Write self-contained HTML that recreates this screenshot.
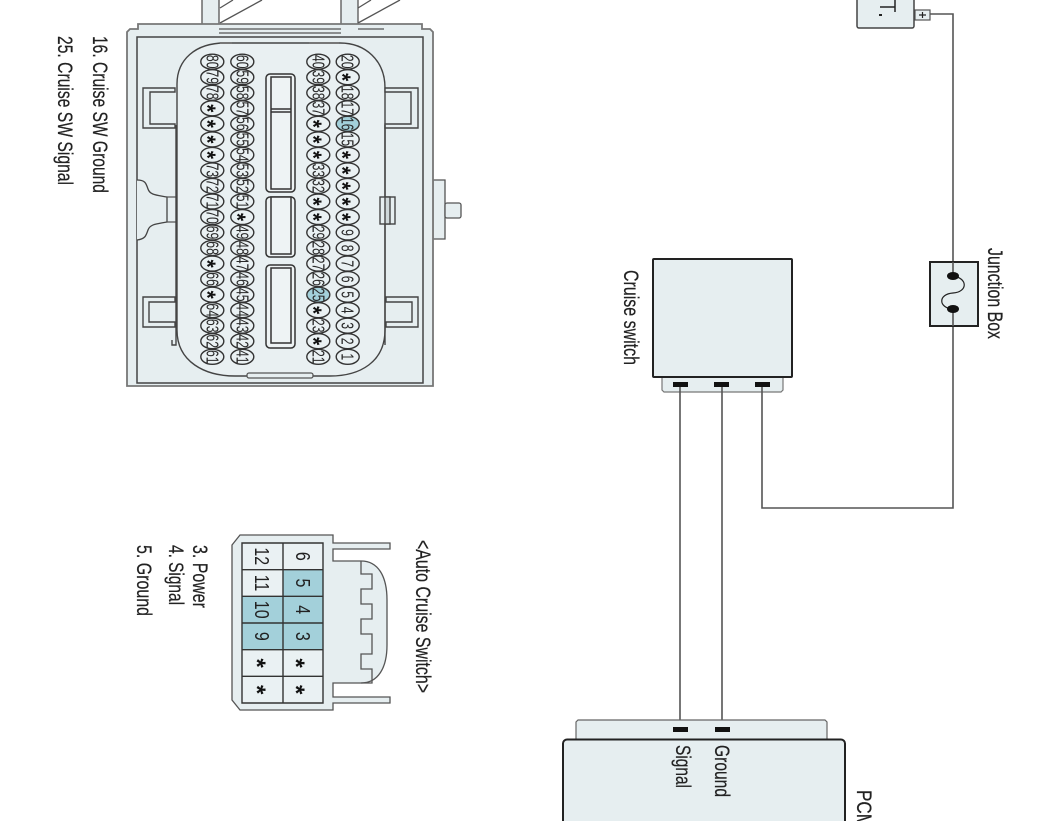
<!DOCTYPE html>
<html><head><meta charset="utf-8"><title>Cruise Control Circuit</title>
<style>
html,body{margin:0;padding:0;background:#fff;width:1062px;height:821px;overflow:hidden}
svg{display:block}
text{font-family:"Liberation Sans",sans-serif;fill:#222}
.l{font-size:21px;stroke:#222;stroke-width:.2}
.p ellipse{fill:#eaf1f3;stroke:#333;stroke-width:1.4}
.p ellipse.h{fill:#a3d0da}
.p text{font-size:18px;text-anchor:middle;fill:#2a2a2a}
.p text.s{font-weight:bold;font-size:23px;fill:#111}
.g text{font-size:20px;text-anchor:middle;fill:#222}
.g text.s{font-weight:bold;font-size:24px;fill:#111}
.b{fill:#e6eef0;stroke:#555;stroke-width:1.3}
.d{fill:none;stroke:#555;stroke-width:1.3}
.w{fill:none;stroke:#555;stroke-width:1.6}
</style></head><body>
<svg width="1062" height="821" viewBox="0 0 1062 821" xmlns="http://www.w3.org/2000/svg">
<!-- harness -->
<path class="d" d="M220 8L233 0M220 23L262 0M358 8L371 0M358 23L400 0"/>
<rect class="b" x="202" y="-2" width="17" height="38"/>
<rect class="b" x="341" y="-2" width="17" height="38"/>
<!-- connector body -->
<path class="b" d="M433 180h12v59h-12z"/>
<rect class="b" x="445" y="203" width="16" height="15" rx="2"/>
<path class="b" d="M127 386V32l3-3h8v-5H422v5h8l3 3V386z" style="stroke:#777;stroke-width:1.8"/>
<path d="M137 37H423V383H137z" fill="#e6eef0" stroke="#444" stroke-width="1.5"/>
<path class="d" d="M219 29H341M219 33H341M358 29h26"/>
<path d="M137 180c8 0 9 3 11 9s8 6 19 8V222c-10 2-17 2-19 8s-3 9-11 10" fill="#e6eef0" stroke="#444" stroke-width="1.3"/>
<path class="d" d="M167 197h10v25h-10"/>
<!-- inner rounded field -->
<path d="M177 88V84C177 60 195 43 225 43H340C365 43 385 60 385 88V330C385 362 360 376 330 376H235C205 376 177 362 177 330Z" fill="#e9f0f2" stroke="#444" stroke-width="1.4"/>
<path d="M220 43h12M309 43h30" stroke="#777" stroke-width="2"/>
<rect class="b" x="247" y="373" width="66" height="5" rx="2"/>
<!-- latches -->
<g fill="#e6eef0" stroke="#444" stroke-width="1.4">
<path d="M175 88H143V128H175V124H150V92H175Z"/>
<path d="M385 88H418V128H385V124H411V92H385Z"/>
<path d="M175 297H143V327H175V322H149V302H175Z"/>
<path d="M386 297H418V327H386V322H412V302H386Z"/>
<path d="M176 125V345H172V340M385 125V345" fill="none"/>
<rect x="380" y="197" width="15" height="27"/>
<rect x="385" y="197" width="5" height="27" fill="#cfd8da"/>
</g>
<!-- centre slots -->
<g fill="#eef3f4" stroke="#333" stroke-width="1.5">
<rect x="266" y="74" width="29" height="118" rx="4"/><rect x="271" y="77" width="20" height="112"/>
<rect x="266" y="197" width="29" height="60" rx="4"/><rect x="271" y="197" width="20" height="57"/>
<rect x="266" y="265" width="29" height="83" rx="4"/><rect x="271" y="268" width="20" height="75"/>
<path d="M271 112H291M271 109H291" fill="none"/>
</g>
<!-- pins -->
<g class="p">
<g transform="translate(347.7 61.7)"><ellipse rx="11.5" ry="7.5"/><text transform="rotate(90) scale(.68 1)" y="6">20</text></g>
<g transform="translate(347.7 77.2)"><ellipse rx="11.5" ry="7.5"/><text class="s" transform="rotate(90) scale(.9 1)" y="13">*</text></g>
<g transform="translate(347.7 92.8)"><ellipse rx="11.5" ry="7.5"/><text transform="rotate(90) scale(.68 1)" y="6">18</text></g>
<g transform="translate(347.7 108.3)"><ellipse rx="11.5" ry="7.5"/><text transform="rotate(90) scale(.68 1)" y="6">17</text></g>
<g transform="translate(347.7 123.8)"><ellipse class="h" rx="11.5" ry="7.5"/><text transform="rotate(90) scale(.68 1)" y="6">16</text></g>
<g transform="translate(347.7 139.4)"><ellipse rx="11.5" ry="7.5"/><text transform="rotate(90) scale(.68 1)" y="6">15</text></g>
<g transform="translate(347.7 154.9)"><ellipse rx="11.5" ry="7.5"/><text class="s" transform="rotate(90) scale(.9 1)" y="13">*</text></g>
<g transform="translate(347.7 170.4)"><ellipse rx="11.5" ry="7.5"/><text class="s" transform="rotate(90) scale(.9 1)" y="13">*</text></g>
<g transform="translate(347.7 185.9)"><ellipse rx="11.5" ry="7.5"/><text class="s" transform="rotate(90) scale(.9 1)" y="13">*</text></g>
<g transform="translate(347.7 201.5)"><ellipse rx="11.5" ry="7.5"/><text class="s" transform="rotate(90) scale(.9 1)" y="13">*</text></g>
<g transform="translate(347.7 217)"><ellipse rx="11.5" ry="7.5"/><text class="s" transform="rotate(90) scale(.9 1)" y="13">*</text></g>
<g transform="translate(347.7 232.5)"><ellipse rx="11.5" ry="7.5"/><text transform="rotate(90) scale(.68 1)" y="6">9</text></g>
<g transform="translate(347.7 248.1)"><ellipse rx="11.5" ry="7.5"/><text transform="rotate(90) scale(.68 1)" y="6">8</text></g>
<g transform="translate(347.7 263.6)"><ellipse rx="11.5" ry="7.5"/><text transform="rotate(90) scale(.68 1)" y="6">7</text></g>
<g transform="translate(347.7 279.1)"><ellipse rx="11.5" ry="7.5"/><text transform="rotate(90) scale(.68 1)" y="6">6</text></g>
<g transform="translate(347.7 294.7)"><ellipse rx="11.5" ry="7.5"/><text transform="rotate(90) scale(.68 1)" y="6">5</text></g>
<g transform="translate(347.7 310.2)"><ellipse rx="11.5" ry="7.5"/><text transform="rotate(90) scale(.68 1)" y="6">4</text></g>
<g transform="translate(347.7 325.7)"><ellipse rx="11.5" ry="7.5"/><text transform="rotate(90) scale(.68 1)" y="6">3</text></g>
<g transform="translate(347.7 341.2)"><ellipse rx="11.5" ry="7.5"/><text transform="rotate(90) scale(.68 1)" y="6">2</text></g>
<g transform="translate(347.7 356.8)"><ellipse rx="11.5" ry="7.5"/><text transform="rotate(90) scale(.68 1)" y="6">1</text></g>

<g transform="translate(318.3 61.7)"><ellipse rx="11.5" ry="7.5"/><text transform="rotate(90) scale(.68 1)" y="6">40</text></g>
<g transform="translate(318.3 77.2)"><ellipse rx="11.5" ry="7.5"/><text transform="rotate(90) scale(.68 1)" y="6">39</text></g>
<g transform="translate(318.3 92.8)"><ellipse rx="11.5" ry="7.5"/><text transform="rotate(90) scale(.68 1)" y="6">38</text></g>
<g transform="translate(318.3 108.3)"><ellipse rx="11.5" ry="7.5"/><text transform="rotate(90) scale(.68 1)" y="6">37</text></g>
<g transform="translate(318.3 123.8)"><ellipse rx="11.5" ry="7.5"/><text class="s" transform="rotate(90) scale(.9 1)" y="13">*</text></g>
<g transform="translate(318.3 139.4)"><ellipse rx="11.5" ry="7.5"/><text class="s" transform="rotate(90) scale(.9 1)" y="13">*</text></g>
<g transform="translate(318.3 154.9)"><ellipse rx="11.5" ry="7.5"/><text class="s" transform="rotate(90) scale(.9 1)" y="13">*</text></g>
<g transform="translate(318.3 170.4)"><ellipse rx="11.5" ry="7.5"/><text transform="rotate(90) scale(.68 1)" y="6">33</text></g>
<g transform="translate(318.3 185.9)"><ellipse rx="11.5" ry="7.5"/><text transform="rotate(90) scale(.68 1)" y="6">32</text></g>
<g transform="translate(318.3 201.5)"><ellipse rx="11.5" ry="7.5"/><text class="s" transform="rotate(90) scale(.9 1)" y="13">*</text></g>
<g transform="translate(318.3 217)"><ellipse rx="11.5" ry="7.5"/><text class="s" transform="rotate(90) scale(.9 1)" y="13">*</text></g>
<g transform="translate(318.3 232.5)"><ellipse rx="11.5" ry="7.5"/><text transform="rotate(90) scale(.68 1)" y="6">29</text></g>
<g transform="translate(318.3 248.1)"><ellipse rx="11.5" ry="7.5"/><text transform="rotate(90) scale(.68 1)" y="6">28</text></g>
<g transform="translate(318.3 263.6)"><ellipse rx="11.5" ry="7.5"/><text transform="rotate(90) scale(.68 1)" y="6">27</text></g>
<g transform="translate(318.3 279.1)"><ellipse rx="11.5" ry="7.5"/><text transform="rotate(90) scale(.68 1)" y="6">26</text></g>
<g transform="translate(318.3 294.7)"><ellipse class="h" rx="11.5" ry="7.5"/><text transform="rotate(90) scale(.68 1)" y="6">25</text></g>
<g transform="translate(318.3 310.2)"><ellipse rx="11.5" ry="7.5"/><text class="s" transform="rotate(90) scale(.9 1)" y="13">*</text></g>
<g transform="translate(318.3 325.7)"><ellipse rx="11.5" ry="7.5"/><text transform="rotate(90) scale(.68 1)" y="6">23</text></g>
<g transform="translate(318.3 341.2)"><ellipse rx="11.5" ry="7.5"/><text class="s" transform="rotate(90) scale(.9 1)" y="13">*</text></g>
<g transform="translate(318.3 356.8)"><ellipse rx="11.5" ry="7.5"/><text transform="rotate(90) scale(.68 1)" y="6">21</text></g>

<g transform="translate(242.3 61.7)"><ellipse rx="11.5" ry="7.5"/><text transform="rotate(90) scale(.68 1)" y="6">60</text></g>
<g transform="translate(242.3 77.2)"><ellipse rx="11.5" ry="7.5"/><text transform="rotate(90) scale(.68 1)" y="6">59</text></g>
<g transform="translate(242.3 92.8)"><ellipse rx="11.5" ry="7.5"/><text transform="rotate(90) scale(.68 1)" y="6">58</text></g>
<g transform="translate(242.3 108.3)"><ellipse rx="11.5" ry="7.5"/><text transform="rotate(90) scale(.68 1)" y="6">57</text></g>
<g transform="translate(242.3 123.8)"><ellipse rx="11.5" ry="7.5"/><text transform="rotate(90) scale(.68 1)" y="6">56</text></g>
<g transform="translate(242.3 139.4)"><ellipse rx="11.5" ry="7.5"/><text transform="rotate(90) scale(.68 1)" y="6">55</text></g>
<g transform="translate(242.3 154.9)"><ellipse rx="11.5" ry="7.5"/><text transform="rotate(90) scale(.68 1)" y="6">54</text></g>
<g transform="translate(242.3 170.4)"><ellipse rx="11.5" ry="7.5"/><text transform="rotate(90) scale(.68 1)" y="6">53</text></g>
<g transform="translate(242.3 185.9)"><ellipse rx="11.5" ry="7.5"/><text transform="rotate(90) scale(.68 1)" y="6">52</text></g>
<g transform="translate(242.3 201.5)"><ellipse rx="11.5" ry="7.5"/><text transform="rotate(90) scale(.68 1)" y="6">51</text></g>
<g transform="translate(242.3 217)"><ellipse rx="11.5" ry="7.5"/><text class="s" transform="rotate(90) scale(.9 1)" y="13">*</text></g>
<g transform="translate(242.3 232.5)"><ellipse rx="11.5" ry="7.5"/><text transform="rotate(90) scale(.68 1)" y="6">49</text></g>
<g transform="translate(242.3 248.1)"><ellipse rx="11.5" ry="7.5"/><text transform="rotate(90) scale(.68 1)" y="6">48</text></g>
<g transform="translate(242.3 263.6)"><ellipse rx="11.5" ry="7.5"/><text transform="rotate(90) scale(.68 1)" y="6">47</text></g>
<g transform="translate(242.3 279.1)"><ellipse rx="11.5" ry="7.5"/><text transform="rotate(90) scale(.68 1)" y="6">46</text></g>
<g transform="translate(242.3 294.7)"><ellipse rx="11.5" ry="7.5"/><text transform="rotate(90) scale(.68 1)" y="6">45</text></g>
<g transform="translate(242.3 310.2)"><ellipse rx="11.5" ry="7.5"/><text transform="rotate(90) scale(.68 1)" y="6">44</text></g>
<g transform="translate(242.3 325.7)"><ellipse rx="11.5" ry="7.5"/><text transform="rotate(90) scale(.68 1)" y="6">43</text></g>
<g transform="translate(242.3 341.2)"><ellipse rx="11.5" ry="7.5"/><text transform="rotate(90) scale(.68 1)" y="6">42</text></g>
<g transform="translate(242.3 356.8)"><ellipse rx="11.5" ry="7.5"/><text transform="rotate(90) scale(.68 1)" y="6">41</text></g>

<g transform="translate(212.3 61.7)"><ellipse rx="11.5" ry="7.5"/><text transform="rotate(90) scale(.68 1)" y="6">80</text></g>
<g transform="translate(212.3 77.2)"><ellipse rx="11.5" ry="7.5"/><text transform="rotate(90) scale(.68 1)" y="6">79</text></g>
<g transform="translate(212.3 92.8)"><ellipse rx="11.5" ry="7.5"/><text transform="rotate(90) scale(.68 1)" y="6">78</text></g>
<g transform="translate(212.3 108.3)"><ellipse rx="11.5" ry="7.5"/><text class="s" transform="rotate(90) scale(.9 1)" y="13">*</text></g>
<g transform="translate(212.3 123.8)"><ellipse rx="11.5" ry="7.5"/><text class="s" transform="rotate(90) scale(.9 1)" y="13">*</text></g>
<g transform="translate(212.3 139.4)"><ellipse rx="11.5" ry="7.5"/><text class="s" transform="rotate(90) scale(.9 1)" y="13">*</text></g>
<g transform="translate(212.3 154.9)"><ellipse rx="11.5" ry="7.5"/><text class="s" transform="rotate(90) scale(.9 1)" y="13">*</text></g>
<g transform="translate(212.3 170.4)"><ellipse rx="11.5" ry="7.5"/><text transform="rotate(90) scale(.68 1)" y="6">73</text></g>
<g transform="translate(212.3 185.9)"><ellipse rx="11.5" ry="7.5"/><text transform="rotate(90) scale(.68 1)" y="6">72</text></g>
<g transform="translate(212.3 201.5)"><ellipse rx="11.5" ry="7.5"/><text transform="rotate(90) scale(.68 1)" y="6">71</text></g>
<g transform="translate(212.3 217)"><ellipse rx="11.5" ry="7.5"/><text transform="rotate(90) scale(.68 1)" y="6">70</text></g>
<g transform="translate(212.3 232.5)"><ellipse rx="11.5" ry="7.5"/><text transform="rotate(90) scale(.68 1)" y="6">69</text></g>
<g transform="translate(212.3 248.1)"><ellipse rx="11.5" ry="7.5"/><text transform="rotate(90) scale(.68 1)" y="6">68</text></g>
<g transform="translate(212.3 263.6)"><ellipse rx="11.5" ry="7.5"/><text class="s" transform="rotate(90) scale(.9 1)" y="13">*</text></g>
<g transform="translate(212.3 279.1)"><ellipse rx="11.5" ry="7.5"/><text transform="rotate(90) scale(.68 1)" y="6">66</text></g>
<g transform="translate(212.3 294.7)"><ellipse rx="11.5" ry="7.5"/><text class="s" transform="rotate(90) scale(.9 1)" y="13">*</text></g>
<g transform="translate(212.3 310.2)"><ellipse rx="11.5" ry="7.5"/><text transform="rotate(90) scale(.68 1)" y="6">64</text></g>
<g transform="translate(212.3 325.7)"><ellipse rx="11.5" ry="7.5"/><text transform="rotate(90) scale(.68 1)" y="6">63</text></g>
<g transform="translate(212.3 341.2)"><ellipse rx="11.5" ry="7.5"/><text transform="rotate(90) scale(.68 1)" y="6">62</text></g>
<g transform="translate(212.3 356.8)"><ellipse rx="11.5" ry="7.5"/><text transform="rotate(90) scale(.68 1)" y="6">61</text></g>
</g>
<!-- connector labels -->
<text class="l" transform="translate(93 36) rotate(90)" textLength="157" lengthAdjust="spacingAndGlyphs">16. Cruise SW Ground</text>
<text class="l" transform="translate(58 36) rotate(90)" textLength="149" lengthAdjust="spacingAndGlyphs">25. Cruise SW Signal</text>

<!-- small connector -->
<path class="b" d="M232 545L240 535H333V543H390V549H333V561H361C378 561 387 576 387 600V645C387 668 378 683 361 683H333V697H390V703H333V710H240L232 700Z"/>
<path class="d" d="M361 561V574H372V589H361V604H372V619H361V634H372V654H361V669H372V683H361"/>
<rect x="242" y="543" width="81" height="160" fill="#eaf1f3"/>
<rect x="283" y="569.7" width="40" height="80" fill="#a3d0da"/>
<rect x="242" y="596.3" width="41" height="53.4" fill="#a3d0da"/>
<path d="M242 543H323V703H242ZM283 543V703M242 569.7H323M242 596.3H323M242 623H323M242 649.7H323M242 676.3H323" fill="none" stroke="#333" stroke-width="1.4"/>
<g class="g">
<text transform="translate(303 556.3) rotate(90) scale(.8 1)" y="7">6</text>
<text transform="translate(303 583) rotate(90) scale(.8 1)" y="7">5</text>
<text transform="translate(303 609.7) rotate(90) scale(.8 1)" y="7">4</text>
<text transform="translate(303 636.3) rotate(90) scale(.8 1)" y="7">3</text>
<text class="s" transform="translate(301 663) rotate(90)" y="13">*</text>
<text class="s" transform="translate(301 689.7) rotate(90)" y="13">*</text>
<text transform="translate(262 556.3) rotate(90) scale(.8 1)" y="7">12</text>
<text transform="translate(262 583) rotate(90) scale(.8 1)" y="7">11</text>
<text transform="translate(262 609.7) rotate(90) scale(.8 1)" y="7">10</text>
<text transform="translate(262 636.3) rotate(90) scale(.8 1)" y="7">9</text>
<text class="s" transform="translate(262 663) rotate(90)" y="13">*</text>
<text class="s" transform="translate(262 689.7) rotate(90)" y="13">*</text>
</g>
<text class="l" transform="translate(416 540) rotate(90)" textLength="153" lengthAdjust="spacingAndGlyphs">&lt;Auto Cruise Switch&gt;</text>
<text class="l" transform="translate(193 545) rotate(90)" textLength="63" lengthAdjust="spacingAndGlyphs">3. Power</text>
<text class="l" transform="translate(169 545) rotate(90)" textLength="60" lengthAdjust="spacingAndGlyphs">4. Signal</text>
<text class="l" transform="translate(137 545) rotate(90)" textLength="71" lengthAdjust="spacingAndGlyphs">5. Ground</text>

<!-- cruise switch -->
<path d="M662 377V390l2 2H781l2-2V377" fill="#e6eef0" stroke="#777" stroke-width="1.2"/>
<rect x="653" y="259" width="139" height="118" rx="1" fill="#e6eef0" stroke="#222" stroke-width="2"/>
<text class="l" transform="translate(624 270) rotate(90)" textLength="95" lengthAdjust="spacingAndGlyphs">Cruise switch</text>

<!-- battery -->
<rect x="915" y="10" width="15" height="10" fill="#e6eef0" stroke="#555" stroke-width="1.2"/>
<path d="M919 15h7M922.500 12v6" stroke="#222" stroke-width="1.2" fill="none"/>
<rect x="857" y="-8" width="57" height="36" rx="2" fill="#e6eef0" stroke="#444" stroke-width="1.5"/>
<path d="M880 7H895M895 0V12" stroke="#222" stroke-width="1.5" fill="none"/>
<rect x="879" y="14" width="3" height="2" fill="#222"/>

<!-- wires -->
<path class="w" d="M680 387V727M722 387V727M762 387V508H953V326M953 262V14H930"/>
<g fill="#111">
<rect x="673" y="382" width="15" height="5"/><rect x="714" y="382" width="15" height="5"/><rect x="755" y="382" width="15" height="5"/>
</g>

<!-- junction box -->
<rect x="930" y="262" width="48" height="64" fill="#e6eef0" stroke="#222" stroke-width="2"/>
<path class="w" d="M953 262V276M953 309V326"/>
<path d="M953 276C968 278 968 292 953 293C938 294 938 308 953 309" fill="none" stroke="#222" stroke-width="1.2"/>
<ellipse cx="953" cy="276" rx="6" ry="4" fill="#111"/>
<ellipse cx="953" cy="309" rx="6" ry="4" fill="#111"/>
<text class="l" transform="translate(988 248) rotate(90)" textLength="91" lengthAdjust="spacingAndGlyphs">Junction Box</text>

<!-- PCM -->
<path d="M576 739V722l2-2H825l2 2V739" fill="#e6eef0" stroke="#666" stroke-width="1.2"/>
<rect x="563" y="739.500" width="282" height="100" rx="4" fill="#e6eef0" stroke="#222" stroke-width="2"/>
<rect x="673" y="727" width="15" height="5" fill="#111"/><rect x="715" y="727" width="15" height="5" fill="#111"/>
<text class="l" transform="translate(676 745) rotate(90)" textLength="43" lengthAdjust="spacingAndGlyphs">Signal</text>
<text class="l" transform="translate(715 745) rotate(90)" textLength="52" lengthAdjust="spacingAndGlyphs">Ground</text>
<text class="l" transform="translate(857 790) rotate(90)" textLength="38" lengthAdjust="spacingAndGlyphs">PCM</text>
</svg>
</body></html>
